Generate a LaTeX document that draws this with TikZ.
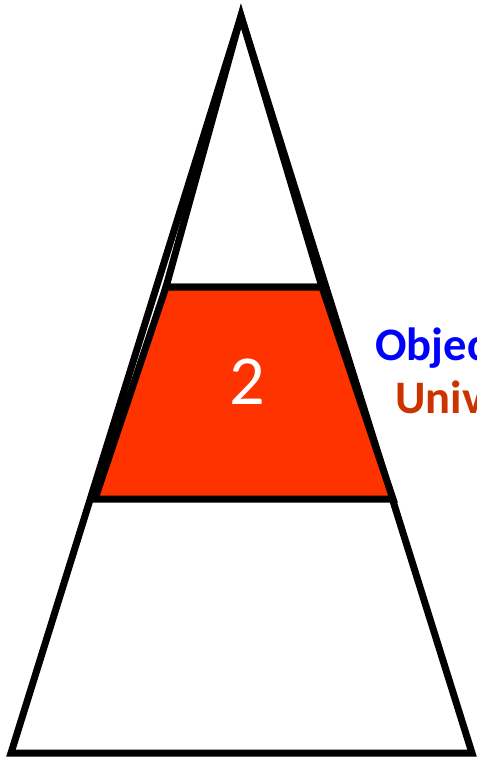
\documentclass[tikz,border=0pt]{standalone}
\usepackage{fontspec}
\setmainfont{Carlito}
\usepackage{xcolor}
\definecolor{bandred}{RGB}{255,51,0}
\definecolor{labelblue}{RGB}{0,0,255}
\definecolor{labelred}{RGB}{204,51,0}

\begin{document}
\begin{tikzpicture}[
        x=0.02cm, y=-0.02cm,
        outline/.style={draw=black, line width=0.14cm, line join=miter},
        band/.style={outline, fill=bandred},
        level/.style={font=\fontsize{40}{48}\selectfont, text=white},
        label/.style={font=\fontsize{26.5}{32}\selectfont\bfseries, anchor=base west, inner sep=0pt}
    ]
        \useasboundingbox (0,0) rectangle (477,758);
        \clip (0,0) rectangle (477,758);
        % pyramid corners
        \coordinate (apex) at (241,16);
        \coordinate (baseL) at (11,753);
        \coordinate (baseR) at (472,753);
        % middle band corners
        \coordinate (bandTL) at (166,287);
        \coordinate (bandTR) at (322,287);
        \coordinate (bandBL) at (95,499);
        \coordinate (bandBR) at (393,499);
        \draw[outline] (apex) -- (baseR) -- (baseL) -- cycle;
        \draw[outline] (apex) -- (bandTR) -- (bandTL) -- cycle;
        \draw[band] (bandTL) -- (bandTR) -- (bandBR) -- (bandBL) -- cycle;
        \node[level] (mid) at (247,382) {2};
        \node[label, text=labelblue] (obj) at (375,360) {Objec};
        \node[label, text=labelred] (uni) at (395,413) {Univ};
    \end{tikzpicture}
\end{document}
